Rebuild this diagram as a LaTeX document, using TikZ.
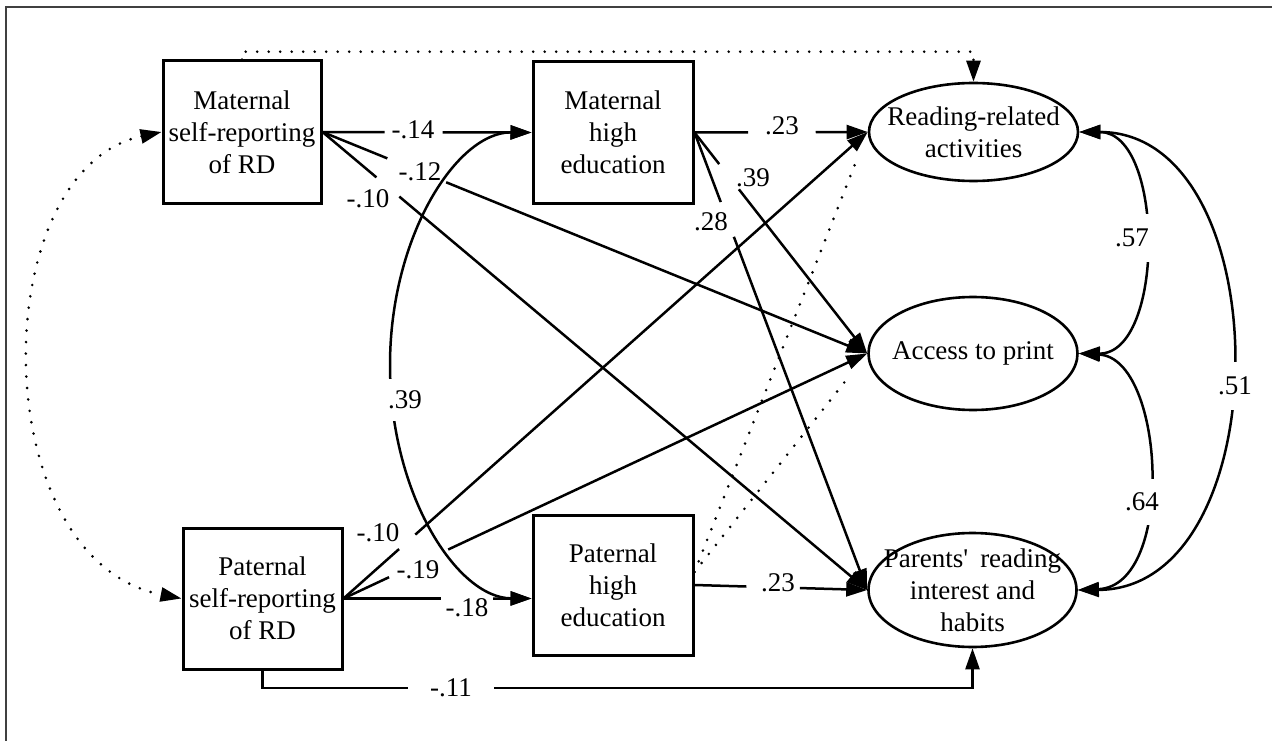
\documentclass[tikz,border=0pt]{standalone}
\usepackage{fontspec}
\setmainfont{Liberation Serif}
\usetikzlibrary{arrows.meta,calc,shapes.geometric}
\newcommand{\figfont}{\fontsize{27pt}{32pt}\selectfont}
\tikzset{
  tip/.style={-{Triangle[length=21pt,width=14pt]}},
  bitip/.style={{Triangle[length=21pt,width=14pt]}-{Triangle[length=21pt,width=14pt]}},
  conn/.style={line width=2.5pt},
  dots/.style={line width=2.9pt, line cap=round, dash pattern=on 0pt off 11.5pt},
  varbox/.style={draw, line width=3pt, inner sep=0pt, align=center, font=\figfont},
  latent/.style={draw, ellipse, line width=2.6pt, inner sep=0pt},
  ltext/.style={align=center, font=\figfont, inner sep=0pt},
  lab/.style={font=\figfont, inner sep=1pt},
  clab/.style={font=\figfont, fill=white, inner xsep=3pt},
}
\begin{document}
\begin{tikzpicture}[x=1pt,y=-1pt]
\useasboundingbox (0,0) rectangle (1272,741);
\fill[white] (0,0) rectangle (1272,741);
\draw[line width=1.5pt, black!75] (6,741) -- (6,7) -- (1272,7);

% observed variables
\node[varbox, minimum width=158pt, minimum height=142pt] (MS) at (242,132) {Maternal\\self-reporting\\of RD};
\node[varbox, minimum width=160pt, minimum height=141pt] (MH) at (613,132.5) {Maternal\\high\\education};
\node[varbox, minimum width=159pt, minimum height=141pt] (PS) at (262.5,598.5) {Paternal\\self-reporting\\of RD};
\node[varbox, minimum width=160pt, minimum height=140pt] (PH) at (613,585) {Paternal\\high\\education};

% latent outcomes
\node[latent, minimum width=209pt, minimum height=98pt] (RA) at (973.5,132) {};
\node[ltext] (RAt) at (RA) {Reading-related\\activities};
\node[latent, minimum width=209pt, minimum height=113pt] (AP) at (973,353.5) {};
\node[ltext] (APt) at (AP) {Access to print};
\node[latent, minimum width=208pt, minimum height=114pt] (PR) at (972.5,590) {};
\node[ltext] (PRt) at (PR) {Parents\textquotesingle\hspace{0.45em}reading\\interest and\\habits};

% Maternal self-reporting paths
\draw[conn] (MS.east) -- ($(MS.east)!0.297!(MH.west)$);
\draw[conn,tip] ($(MS.east)!0.575!(MH.west)$) -- (MH.west);
\node[lab] (l14) at (413,130) {-.14};

\draw[conn] (MS.east) -- ($(MS.east)!0.119!(AP.west)$);
\draw[conn,tip] ($(MS.east)!0.227!(AP.west)$) -- (AP.west);
\node[lab] (l12) at (420,172) {-.12};

\draw[conn] (MS.east) -- ($(MS.east)!0.099!(PR.west)$);
\draw[conn,tip] ($(MS.east)!0.141!(PR.west)$) -- (PR.west);
\node[lab] (l10a) at (368,199) {-.10};

% Maternal high education paths
\draw[conn] (MH.east) -- ($(MH.east)!0.31!(RA.west)$);
\draw[conn,tip] ($(MH.east)!0.70!(RA.west)$) -- (RA.west);
\node[lab] (l23a) at (782,126) {.23};

\draw[conn] (MH.east) -- ($(MH.east)!0.143!(AP.west)$);
\draw[conn,tip] ($(MH.east)!0.257!(AP.west)$) -- (AP.west);
\node[lab] (l39a) at (753,178) {.39};

\draw[conn] (MH.east) -- ($(MH.east)!0.152!(PR.west)$);
\draw[conn,tip] ($(MH.east)!0.228!(PR.west)$) -- (PR.west);
\node[lab] (l28) at (711,222) {.28};

% Paternal self-reporting paths
\draw[conn] (PS.east) -- ($(PS.east)!0.106!(RA.west)$);
\draw[conn,tip] ($(PS.east)!0.137!(RA.west)$) -- (RA.west);
\node[lab] (l10b) at (378,533) {-.10};

\draw[conn] (PS.east) -- ($(PS.east)!0.087!(AP.west)$);
\draw[conn,tip] ($(PS.east)!0.20!(AP.west)$) -- (AP.west);
\node[lab] (l19) at (418,570) {-.19};

\coordinate (PHin) at (PS.east -| PH.west);
\draw[conn] (PS.east) -- ($(PS.east)!0.518!(PHin)$);
\draw[conn,tip] ($(PS.east)!0.796!(PHin)$) -- (PHin);
\node[lab] (l18) at (467,608) {-.18};

\coordinate (b1) at (408,688);
\coordinate (b2) at (494,688);
\draw[conn] (PS.south) |- (b1);
\draw[conn,tip] (b2) -| (PR.south);
\node[lab] (l11) at (451,688) {-.11};

% Paternal high education paths
\draw[conn] (PH.east) -- ($(PH.east)!0.30!(PR.west)$);
\draw[conn,tip] ($(PH.east)!0.61!(PR.west)$) -- (PR.west);
\node[lab] (l23b) at (778,583) {.23};

\coordinate (PHd) at ($(PH.east)+(0,-13)$);
\draw[dots, shorten >=33pt] (PHd) -- (RA.west);
\draw[dots, shorten >=33pt] (PHd) -- (AP.west);

% dotted paths
\draw[dots,tip] (MS.north) |- ($(RA.north)+(0,-30)$) -- (RA.north);
\draw[dots,bitip] (MS.west) .. controls (-16,170) and (-16,560) .. (PS.west);

% covariance between education variables
\draw[conn,bitip] (MH.west) .. controls (457,132) and (390,236) .. (390,365)
  .. controls (390,494) and (457,598) .. (PHin);
\node[clab, inner ysep=12pt] (l39b) at (405,400) {.39};

% covariances among outcomes
\draw[conn,bitip] (RA.east) .. controls (1165,132) and (1165,354) .. (AP.east);
\node[clab, inner ysep=15pt] (l57) at (1132,238) {.57};
\draw[conn,bitip] (AP.east) .. controls (1165,358) and (1176,586) .. (PR.east);
\node[clab, inner ysep=14pt] (l64) at (1142,502) {.64};
\draw[conn,bitip] (RA.east) .. controls (1281,132) and (1281,589) .. (PR.east);
\node[clab, inner ysep=15pt] (l51) at (1235,386) {.51};
\end{tikzpicture}
\end{document}
